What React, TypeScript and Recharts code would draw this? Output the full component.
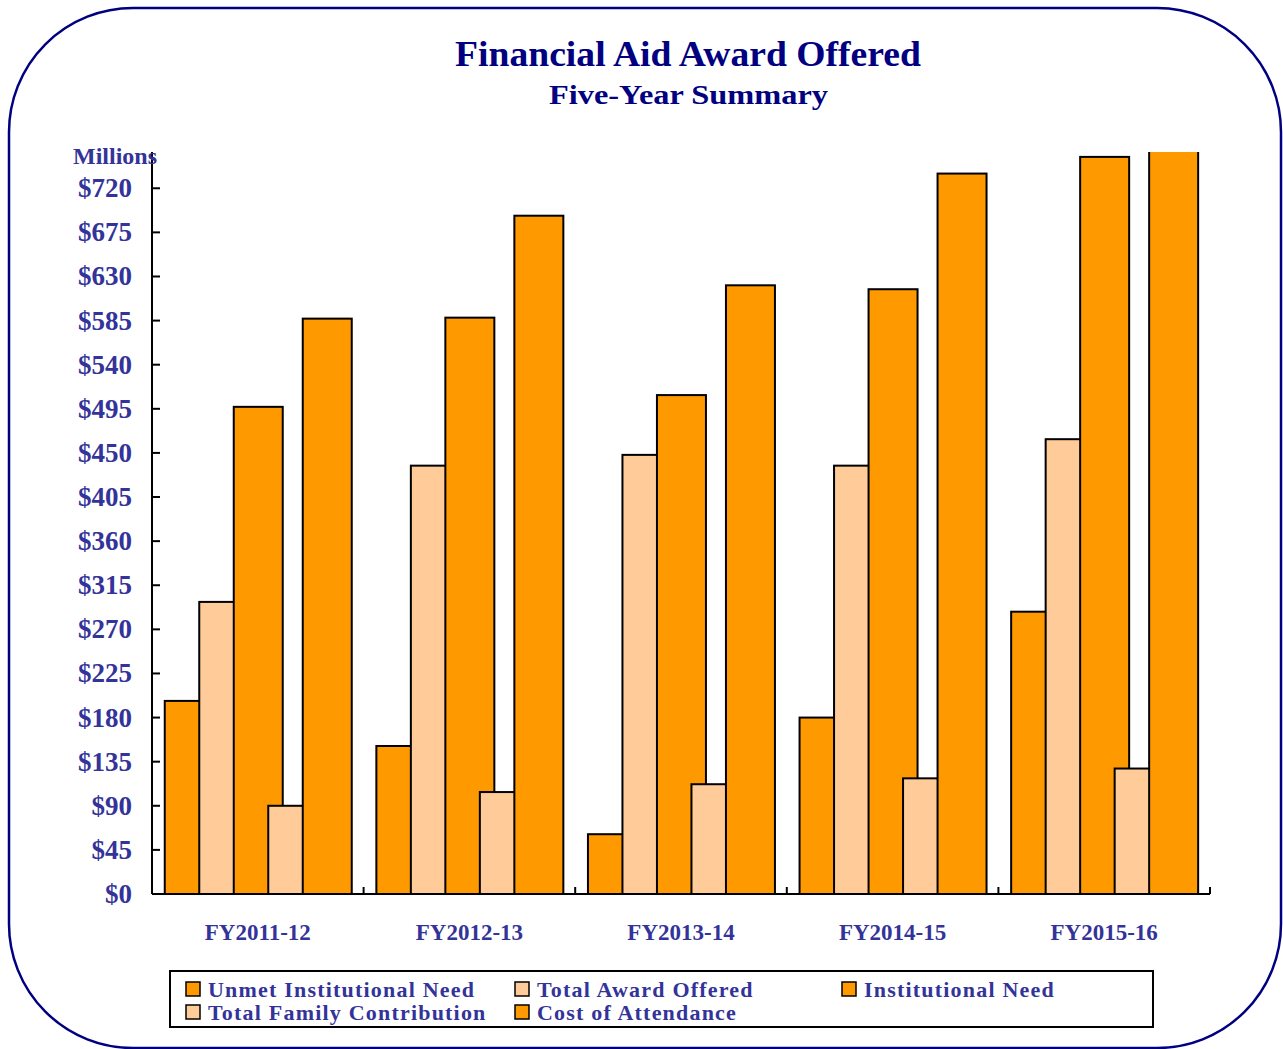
import { BarChart, Bar, XAxis, YAxis } from "recharts";

const CATEGORIES = ["FY2011-12", "FY2012-13", "FY2013-14", "FY2014-15", "FY2015-16"];
const UNMET_NEED = [197, 151, 61, 180, 288];
const TOTAL_AWARD = [298, 437, 448, 437, 464];
const INST_NEED = [497, 588, 509, 617, 752];
const FAMILY_CONTRIB = [90, 104, 112, 118, 128];
const COST_ATTEND = [587, 692, 621, 735, 880];
const Y_TICKS = [0, 45, 90, 135, 180, 225, 270, 315, 360, 405, 450, 495, 540, 585, 630, 675, 720];

const ORANGE = "#FF9900";
const PEACH = "#FFCC99";
const NAVY = "#000080";
const LABEL = "#333399";
const FONT = '"Liberation Serif", "Times New Roman", serif';

const SERIES = [
  { key: "unmet", name: "Unmet Institutional Need", color: ORANGE },
  { key: "award", name: "Total Award Offered", color: PEACH },
  { key: "need", name: "Institutional Need", color: ORANGE },
  { key: "family", name: "Total Family Contribution", color: PEACH },
  { key: "cost", name: "Cost of Attendance", color: ORANGE },
];

const data = CATEGORIES.map((c, i) => ({
  name: c,
  unmet: UNMET_NEED[i],
  award: TOTAL_AWARD[i],
  need: INST_NEED[i],
  family: FAMILY_CONTRIB[i],
  cost: COST_ATTEND[i],
}));

// bars overlap like the excel original: draw each one wider than its slot
const WideBar = (props: any) => {
  const { x, y, width, height, fill } = props;
  if (!height || height <= 0) return null;
  const w = width * 1.42;
  return (
    <rect x={x - (w - width) / 2} y={y} width={w} height={height}
      fill={fill} stroke="#000" strokeWidth={2} />
  );
};

const YTick = (props: any) => {
  const { x, y, payload } = props;
  return (
    <g>
      <line x1={x + 20} x2={x + 28} y1={y} y2={y} stroke="#000" strokeWidth={2} />
      <text x={x} y={y} dy={9} textAnchor="end" fill={LABEL}
        fontFamily={FONT} fontWeight="bold" fontSize={27}>
        ${payload.value}
      </text>
    </g>
  );
};

const XTick = (props: any) => {
  const { x, y, payload } = props;
  return (
    <g>
      <line x1={x + 105.8} x2={x + 105.8} y1={y - 7} y2={y} stroke="#000" strokeWidth={2} />
      <text x={x} y={y + 46} textAnchor="middle" fill={LABEL}
        fontFamily={FONT} fontWeight="bold" fontSize={23}>
        {payload.value}
      </text>
    </g>
  );
};

const LEGEND_POS = [
  [186, 982], [515, 982], [842, 982], [186, 1005], [515, 1005],
];

export default function App() {
  return (
    <div style={{ position: "absolute", left: 0, top: 0, width: 1283, height: 1049, background: "#fff" }}>
      <div style={{ position: "absolute", left: 0, top: 0 }}>
        <BarChart width={1283} height={1049} data={data}
          margin={{ top: 152, right: 73, bottom: 115, left: 0 }}
          barGap={0} barSize={34.5}>
          <XAxis dataKey="name" height={40} tickSize={0} tickMargin={0}
            axisLine={{ stroke: "#000", strokeWidth: 2 }} tick={<XTick />} interval={0} />
          <YAxis width={152} domain={[0, 757]} ticks={Y_TICKS} allowDataOverflow
            tickSize={0} tickMargin={20} interval={0}
            axisLine={{ stroke: "#000", strokeWidth: 2 }} tick={<YTick />} />
          {SERIES.map((s) => (
            <Bar key={s.key} dataKey={s.key} name={s.name} fill={s.color}
              shape={<WideBar />} isAnimationActive={false} />
          ))}
        </BarChart>
      </div>
      <svg width={1283} height={1049} style={{ position: "absolute", left: 0, top: 0, pointerEvents: "none" }}>
        <rect x={9} y={8} width={1272} height={1040} rx={124} ry={124}
          fill="none" stroke={NAVY} strokeWidth={2.5} />
        <text x={455} y={66} textLength={466} lengthAdjust="spacingAndGlyphs" fill={NAVY}
          fontFamily={FONT} fontWeight="bold" fontSize={35}>Financial Aid Award Offered</text>
        <text x={549} y={104} textLength={279} lengthAdjust="spacingAndGlyphs" fill={NAVY}
          fontFamily={FONT} fontWeight="bold" fontSize={28}>Five-Year Summary</text>
        <text x={73} y={164} fill={LABEL} fontFamily={FONT} fontWeight="bold"
          fontSize={24}>Millions</text>
        <rect x={170} y={971} width={983} height={56} fill="none" stroke="#000" strokeWidth={2} />
        {SERIES.map((s, i) => (
          <g key={s.key}>
            <rect x={LEGEND_POS[i][0]} y={LEGEND_POS[i][1]} width={14} height={14}
              fill={s.color} stroke="#000" strokeWidth={1.5} />
            <text x={LEGEND_POS[i][0] + 22} y={LEGEND_POS[i][1] + 15} fill={LABEL}
              fontFamily={FONT} fontWeight="bold" fontSize={22} letterSpacing={1.2}>{s.name}</text>
          </g>
        ))}
      </svg>
    </div>
  );
}
